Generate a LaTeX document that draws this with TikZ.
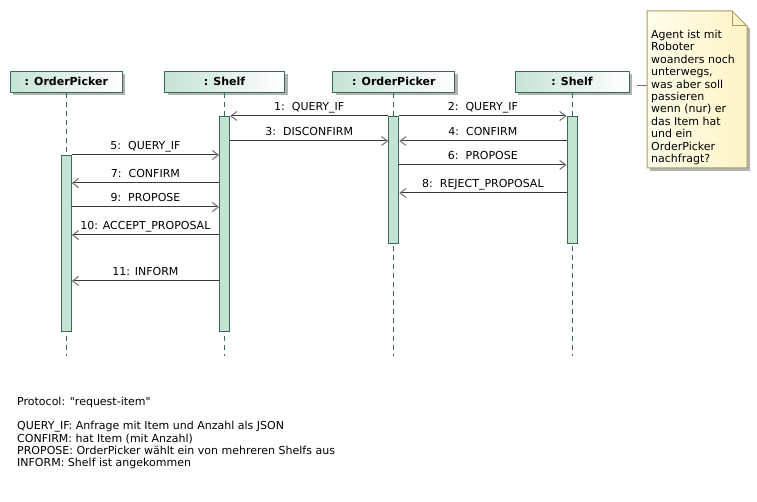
\documentclass[tikz,border=0pt]{standalone}
\usepackage{fontspec}
\setmainfont{DejaVu Sans}[Ligatures=TeXOff]
\usetikzlibrary{arrows.meta,shadows}

\definecolor{headgreen}{HTML}{C5E3D3}
\definecolor{bargreen}{HTML}{C3E3D3}
\definecolor{linegreen}{HTML}{3A6B58}
\definecolor{msggrey}{HTML}{383838}
\definecolor{tipgrey}{HTML}{707070}
\definecolor{notelight}{HTML}{FFFDEB}
\definecolor{noteyellow}{HTML}{FDF4C6}
\definecolor{noteedge}{HTML}{A89C60}

\begin{document}
\begin{tikzpicture}[x=1pt,y=-1pt,
    every node/.style={font=\fontsize{11}{13}\selectfont},
    head/.style={draw=linegreen,line width=1pt,left color=headgreen,right color=white,
      minimum height=21,inner sep=0pt,font=\fontsize{11}{13}\selectfont\bfseries,
      drop shadow={shadow xshift=3pt,shadow yshift=-3pt,fill=black!30,opacity=1}},
    lifeline/.style={draw=linegreen,line width=1pt,dash pattern=on 5pt off 4pt},
    bar/.style={draw=linegreen,line width=1pt,fill=bargreen,minimum width=10,inner sep=0pt,anchor=north},
    msg/.style={draw=msggrey,line width=1pt,-{Straight Barb[length=6pt,width=9pt,color=tipgrey]}},
    lbl/.style={midway,anchor=base,yshift=5pt,inner sep=0pt},
    notebox/.style={draw=noteedge,line width=1pt,left color=notelight,right color=noteyellow,
      drop shadow={shadow xshift=3pt,shadow yshift=-3pt,fill=black!30,opacity=1}},
    notetext/.style={align=left,inner sep=0pt,anchor=north west,font=\fontsize{11}{12.4}\selectfont}]
  \path[use as bounding box,fill=white] (0,0) rectangle (757,502);

  % participants
  \node[head,minimum width=112] (op1) at (66.3,81.8) {: OrderPicker};
  \node[head,minimum width=120] (sh1) at (224.6,81.8) {: Shelf};
  \node[head,minimum width=122] (op2) at (393.8,81.8) {: OrderPicker};
  \node[head,minimum width=114] (sh2) at (572,81.8) {: Shelf};

  \coordinate (lend) at (0,356);
  \foreach \n in {op1,sh1,op2,sh2}
    \draw[lifeline] (\n.south) -- (\n.south |- lend);

  % activations
  \node[bar,minimum height=176] (bOp1) at (op1.south |- 0,155) {};
  \node[bar,minimum height=215] (bSh1) at (sh1.south |- 0,116) {};
  \node[bar,minimum height=127] (bOp2) at (op2.south |- 0,116) {};
  \node[bar,minimum height=127] (bSh2) at (sh2.south |- 0,116) {};

  % message rows
  \coordinate (y1) at (0,116);
  \coordinate (y3) at (0,141);
  \coordinate (y5) at (0,155);
  \coordinate (y6) at (0,165);
  \coordinate (y7) at (0,183);
  \coordinate (y8) at (0,193);
  \coordinate (y9) at (0,207);
  \coordinate (y10) at (0,235);
  \coordinate (y11) at (0,281);

  \draw[msg] (bOp2.west |- y1) -- (bSh1.east |- y1) node[lbl] {1:~~QUERY\_IF};
  \draw[msg] (bOp2.east |- y1) -- (bSh2.west |- y1) node[lbl] {2:~~QUERY\_IF};
  \draw[msg] (bSh1.east |- y3) -- (bOp2.west |- y3) node[lbl] {3:~~DISCONFIRM};
  \draw[msg] (bSh2.west |- y3) -- (bOp2.east |- y3) node[lbl] {4:~~CONFIRM};
  \draw[msg] (bOp1.east |- y5) -- (bSh1.west |- y5) node[lbl] {5:~~QUERY\_IF};
  \draw[msg] (bOp2.east |- y6) -- (bSh2.west |- y6) node[lbl] {6:~~PROPOSE};
  \draw[msg] (bSh1.west |- y7) -- (bOp1.east |- y7) node[lbl] {7:~~CONFIRM};
  \draw[msg] (bSh2.west |- y8) -- (bOp2.east |- y8) node[lbl] {8:~~REJECT\_PROPOSAL};
  \draw[msg] (bOp1.east |- y9) -- (bSh1.west |- y9) node[lbl] {9:~~PROPOSE};
  \draw[msg] (bSh1.west |- y10) -- (bOp1.east |- y10) node[lbl] {10: ACCEPT\_PROPOSAL};
  \draw[msg] (bSh1.west |- y11) -- (bOp1.east |- y11) node[lbl] {11: INFORM};

  % note
  \path[notebox] (647,11) -- (732,11) -- (747,26) -- (747,168) -- (647,168) -- cycle;
  \draw[noteedge,line width=1pt] (732,11) -- (732,26) -- (747,26);
  \node[notetext] (note) at (651,30) {Agent ist mit\\Roboter\\woanders noch\\unterwegs,\\was aber soll\\passieren\\wenn (nur) er\\das Item hat\\und ein\\OrderPicker\\nachfragt?};
  \coordinate (nlinkA) at (637,86);
  \coordinate (nlinkB) at (647,86);
  \draw[tipgrey,line width=1pt] (nlinkA) -- (nlinkB);

  % legend
  \node[notetext,font=\fontsize{11}{12.2}\selectfont] (legend) at (17,397) {Protocol: "request-item"\\[12.2pt]QUERY\_IF: Anfrage mit Item und Anzahl als JSON\\CONFIRM: hat Item (mit Anzahl)\\PROPOSE: OrderPicker wählt ein von mehreren Shelfs aus\\INFORM: Shelf ist angekommen};
\end{tikzpicture}
\end{document}
